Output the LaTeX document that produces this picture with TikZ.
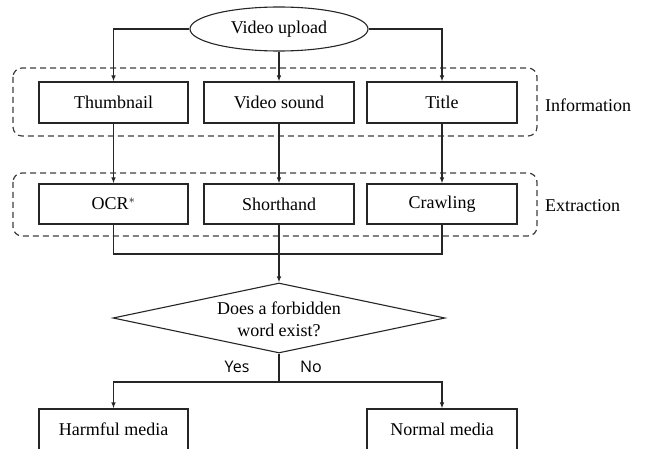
\documentclass[tikz,border=0pt]{standalone}
\usepackage{fontspec}
\setmainfont{Liberation Serif}
\newfontfamily\diagserif{Liberation Serif}
\newfontfamily\ynfont{Open Sans}
\usetikzlibrary{shapes.geometric,arrows.meta}
\begin{document}
\begin{tikzpicture}[x=1pt,y=-1pt,
  every node/.style={font=\diagserif\fontsize{18}{22}\selectfont},
  line/.style={line width=1.1pt, draw=black!85},
  arr/.style={line, -{Latex[length=6pt,width=4.5pt]}},
  stepbox/.style={draw=black!85, line width=1.1pt, rectangle, minimum width=150pt, minimum height=41pt, inner sep=0pt},
  groupbox/.style={draw=black!75, line width=1.2pt, dash pattern=on 6pt off 4pt, rounded corners=9pt},
  sidelabel/.style={anchor=west, inner sep=0pt},
  ynlabel/.style={font=\ynfont\fontsize{16}{18}\selectfont, inner sep=0pt}]
\clip (0,0) rectangle (645,449);
\fill[white] (0,0) rectangle (645,449);

\node[ellipse, draw=black!85, line width=1.1pt, minimum width=178pt, minimum height=44pt, inner sep=0pt] (up) at (279,29) {Video upload};

\draw[groupbox] (13,68) rectangle (537,136);
\draw[groupbox] (13,173) rectangle (537,236);

\node[stepbox, minimum width=149pt] (thumb) at (113.5,102.5) {Thumbnail};
\node[stepbox] (vs) at (279,102.5) {Video sound};
\node[stepbox] (title) at (442,102.5) {Title};
\node[sidelabel] (info) at (545,105) {Information};

\node[stepbox, minimum width=149pt, minimum height=40pt] (ocr) at (113.5,204) {OCR$^{*}$};
\node[stepbox, minimum height=40pt] (short) at (279,204) {Shorthand};
\node[stepbox, minimum height=40pt] (crawl) at (442,204) {Crawling};
\node[sidelabel] (extr) at (545,206) {Extraction};

\node[diamond, draw=black!85, line width=1.1pt, minimum width=332pt, minimum height=70pt, inner sep=0pt] (dia) at (279,318) {};
\node[align=center, inner sep=0pt] (q) at (279,319) {Does a forbidden\\word exist?};

\node[ynlabel] (yes) at (237,367) {Yes};
\node[ynlabel] (no) at (311,367) {No};

\node[stepbox, minimum width=149pt] (harm) at (113.5,429.5) {Harmful media};
\node[stepbox] (norm) at (442,429.5) {Normal media};

\draw[arr] (up.west) -| (thumb.north);
\draw[arr] (up.south) -- (vs.north);
\draw[arr] (up.east) -| (title.north);

\draw[arr] (thumb.south) -- (ocr.north);
\draw[arr] (vs.south) -- (short.north);
\draw[arr] (title.south) -- (crawl.north);

\coordinate (m) at (279,254);
\draw[line] (ocr.south) |- (m);
\draw[line] (crawl.south) |- (m);
\draw[arr] (short.south) -- (dia.north);

\coordinate (s) at (279,382);
\draw[line] (dia.south) -- (s);
\draw[arr] (s) -| (harm.north);
\draw[arr] (s) -| (norm.north);
\end{tikzpicture}
\end{document}
